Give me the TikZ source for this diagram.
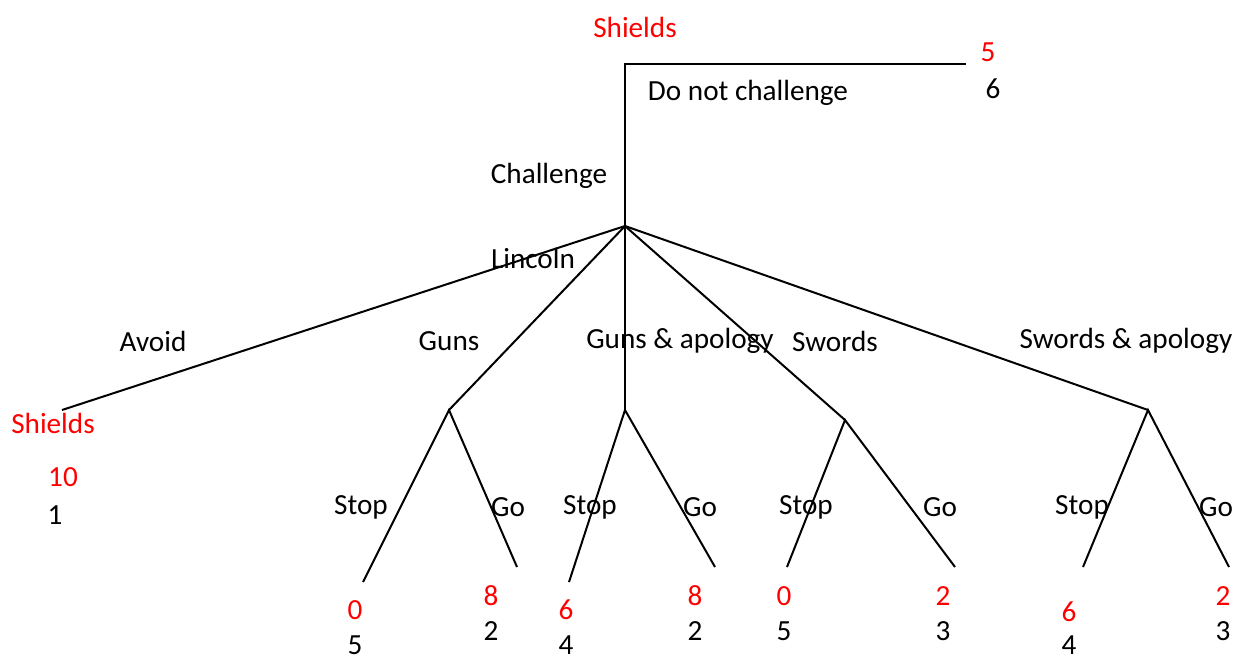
\documentclass[tikz,border=0pt]{standalone}
\usepackage{fontspec}
\setmainfont{Carlito}
\usepackage{xcolor}
\usepackage{tikz}

\tikzset{
	lbl/.style={inner sep=0pt, font=\fontsize{14.6}{17}\selectfont},
	pay/.style={lbl, red},
	edge/.style={line width=1pt}
}

\begin{document}
\begin{tikzpicture}[x=0.5pt, y=-0.5pt]
			\useasboundingbox (0,0) rectangle (1240,655);
			% decision points
			\coordinate (top) at (625,64);
			\coordinate (dnc) at (966,64);
			\coordinate (lincoln) at (625,226);
			\coordinate (avoid) at (62,410);
			\coordinate (guns) at (449,410);
			\coordinate (gapol) at (625,410);
			\coordinate (swords) at (845,420);
			\coordinate (sapol) at (1148,410);
			% end points
			\coordinate (gunsS) at (363,582);
			\coordinate (gunsG) at (517,567);
			\coordinate (gapolS) at (569,582);
			\coordinate (gapolG) at (715,567);
			\coordinate (swordsS) at (787,567);
			\coordinate (swordsG) at (955,567);
			\coordinate (sapolS) at (1083,567);
			\coordinate (sapolG) at (1229,567);

			\draw [edge] (lincoln) -- (top) -- (dnc);
			\draw [edge] (lincoln) -- (avoid);
			\draw [edge] (lincoln) -- (guns);
			\draw [edge] (lincoln) -- (gapol);
			\draw [edge] (lincoln) -- (swords);
			\draw [edge] (lincoln) -- (sapol);
			\draw [edge] (gunsS) -- (guns) -- (gunsG);
			\draw [edge] (gapolS) -- (gapol) -- (gapolG);
			\draw [edge] (swordsS) -- (swords) -- (swordsG);
			\draw [edge] (sapolS) -- (sapol) -- (sapolG);

			% players and moves
			\node [pay] (shieldsTop) at (635,27) {Shields};
			\node [lbl] (dncLbl) at (748,93) {Do not challenge};
			\node [lbl] (chLbl) at (549,176) {Challenge};
			\node [lbl] (linLbl) at (533,258) {Lincoln};
			\node [lbl] (avoidLbl) at (153,341) {Avoid};
			\node [lbl] (gunsLbl) at (449,341) {Guns};
			\node [lbl] (gapolLbl) at (680,341) {Guns \& apology};
			\node [lbl] (swordsLbl) at (835,341) {Swords};
			\node [lbl] (sapolLbl) at (1126,341) {Swords \& apology};
			\node [pay] (shieldsLeft) at (53,423) {Shields};
			\node [lbl] (gunsSLbl) at (361,507) {Stop};
			\node [lbl] (gunsGLbl) at (508,507) {Go};
			\node [lbl] (gapolSLbl) at (590,507) {Stop};
			\node [lbl] (gapolGLbl) at (700,507) {Go};
			\node [lbl] (swordsSLbl) at (806,507) {Stop};
			\node [lbl] (swordsGLbl) at (940,507) {Go};
			\node [lbl] (sapolSLbl) at (1082,507) {Stop};
			\node [lbl] (sapolGLbl) at (1216,507) {Go};

			% payoffs
			\node [pay] (dncA) at (988,52) {5};
			\node [lbl] (dncB) at (993,89) {6};
			\node [pay] (avoidA) at (63,477) {10};
			\node [lbl] (avoidB) at (55,515) {1};
			\node [pay] (gunsSA) at (355,610) {0};
			\node [lbl] (gunsSB) at (355,645) {5};
			\node [pay] (gunsGA) at (491,596) {8};
			\node [lbl] (gunsGB) at (491,631) {2};
			\node [pay] (gapolSA) at (566,610) {6};
			\node [lbl] (gapolSB) at (566,645) {4};
			\node [pay] (gapolGA) at (695,596) {8};
			\node [lbl] (gapolGB) at (695,631) {2};
			\node [pay] (swordsSA) at (784,596) {0};
			\node [lbl] (swordsSB) at (784,631) {5};
			\node [pay] (swordsGA) at (943,596) {2};
			\node [lbl] (swordsGB) at (943,631) {3};
			\node [pay] (sapolSA) at (1069,612) {6};
			\node [lbl] (sapolSB) at (1069,645) {4};
			\node [pay] (sapolGA) at (1223,596) {2};
			\node [lbl] (sapolGB) at (1223,631) {3};
		\end{tikzpicture}
\end{document}
